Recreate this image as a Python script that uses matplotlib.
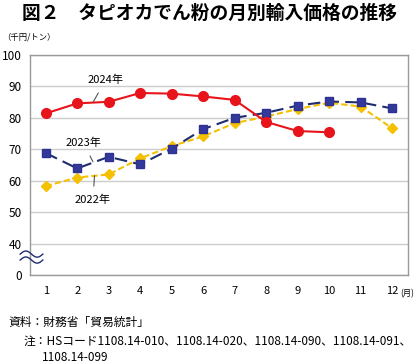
import numpy as np
import matplotlib.pyplot as plt

plt.rcParams['font.family'] = ['Noto Sans CJK JP', 'DejaVu Sans']

months = [1, 2, 3, 4, 5, 6, 7, 8, 9, 10, 11, 12]
month_labels = [str(m) for m in months]

price_2024 = [81.4, 84.6, 85.1, 87.9, 87.7, 86.8, 85.7, 78.7, 75.8, 75.4]
price_2023 = [68.8, 63.9, 67.6, 65.2, 70.2, 76.4, 80.0, 81.6, 83.9, 85.2, 84.9, 83.0]
price_2022 = [58.3, 61.0, 62.0, 67.1, 71.0, 74.1, 78.3, 80.4, 82.8, 84.8, 83.6, 76.7]

y_ticks = [30, 40, 50, 60, 70, 80, 90, 100]
y_labels = ['0', '40', '50', '60', '70', '80', '90', '100']

fig = plt.figure(figsize=(4.2, 3.64), dpi=100)
ax = fig.add_axes([0.0714, 0.2445, 0.8996, 0.6045])

ax.plot(months, price_2022, color='#f5c000', lw=1.5, ls=(0, (3, 1.5)),
        marker='D', ms=5, mec='#f5c000', mfc='#f5c000', zorder=3)
ax.plot(months, price_2023, color='#1f2d6e', lw=1.5, ls=(0, (6, 3)),
        marker='s', ms=6, mec='#2e3192', mfc='#33399a', zorder=4)
ax.plot(months[:len(price_2024)], price_2024, color='#e8141b', lw=1.5,
        marker='o', ms=7, mec='#e8141b', mfc='#e8141b', zorder=5)

ax.set_xlim(0.5, 12.5)
ax.set_ylim(30, 100)
ax.set_xticks(months)
ax.set_xticklabels(month_labels, fontsize=8)
ax.set_yticks(y_ticks)
ax.set_yticklabels(y_labels, fontsize=8.5)
ax.tick_params(axis='x', length=0, pad=8)
ax.tick_params(axis='y', length=0, pad=6)
ax.grid(axis='y', color='#cccccc', lw=1)
ax.set_axisbelow(True)
for s in ax.spines.values():
    s.set_color('#999999')
    s.set_linewidth(1)

# labels with leader lines
ax.annotate('2024年', xy=(2.5, 84.9), xytext=(2.9, 92.0), fontsize=8,
            ha='center', va='center',
            arrowprops=dict(arrowstyle='-', color='#555555', lw=0.8, shrinkA=4, shrinkB=0))
ax.annotate('2023年', xy=(2.5, 66.0), xytext=(2.2, 72.0), fontsize=8,
            ha='center', va='center',
            arrowprops=dict(arrowstyle='-', color='#555555', lw=0.8, shrinkA=4, shrinkB=0))
ax.annotate('2022年', xy=(2.55, 61.6), xytext=(2.5, 54.0), fontsize=8,
            ha='center', va='center',
            arrowprops=dict(arrowstyle='-', color='#555555', lw=0.8, shrinkA=4, shrinkB=0))

# axis break mark
t = np.linspace(0, 1, 60)
wx = -0.026 + t * 0.06
for yc in (0.095, 0.068):
    wy = yc + 0.014 * np.sin(t * 2 * np.pi)
    ax.plot(wx, wy, transform=ax.transAxes,
            color='#1f2d6e', lw=1, clip_on=False, zorder=6)

fig.text(0.5, 0.962, '図２　タピオカでん粉の月別輸入価格の推移', fontsize=13.5,
         fontweight='bold', ha='center', va='center')
fig.text(0.005, 0.898, '（千円/トン）', fontsize=6, ha='left', va='center')
fig.text(0.953, 0.192, '(月)', fontsize=6, ha='left', va='center')
fig.text(0.02, 0.115, '資料：財務省「貿易統計」', fontsize=8.5, ha='left', va='center')
fig.text(0.057, 0.063, '注：HSコード1108.14-010、1108.14-020、1108.14-090、1108.14-091、',
         fontsize=8.5, ha='left', va='center')
fig.text(0.1, 0.018, '1108.14-099', fontsize=8.5, ha='left', va='center')

fig.savefig('out.png', dpi=100)
